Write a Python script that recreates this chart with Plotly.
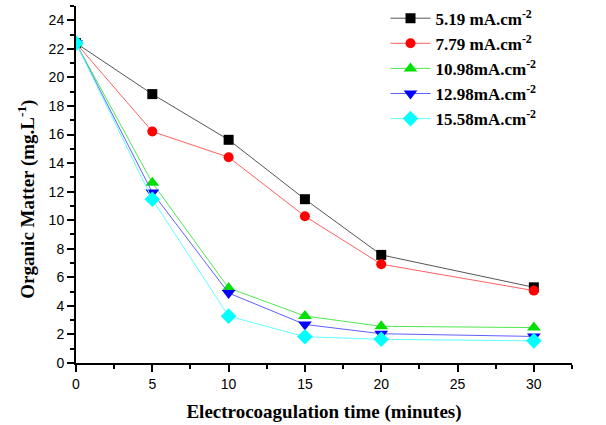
import plotly.graph_objects as go

# Electrocoagulation time (minutes)
time_min = [0, 5, 10, 15, 20, 30]

# Organic matter (mg/L) for each current density
om_519 = [22.4, 18.83, 15.63, 11.47, 7.57, 5.30]
om_779 = [22.4, 16.21, 14.41, 10.28, 6.92, 5.07]
om_1098 = [22.4, 12.62, 5.25, 3.29, 2.57, 2.48]
om_1298 = [22.4, 11.94, 4.90, 2.70, 2.05, 1.86]
om_1558 = [22.4, 11.47, 3.28, 1.84, 1.66, 1.55]

series_names = [
    "5.19 mA.cm<sup>-2</sup>",
    "7.79 mA.cm<sup>-2</sup>",
    "10.98mA.cm<sup>-2</sup>",
    "12.98mA.cm<sup>-2</sup>",
    "15.58mA.cm<sup>-2</sup>",
]
series_values = [om_519, om_779, om_1098, om_1298, om_1558]
marker_colors = ["#000000", "#FF0000", "#00E000", "#0000FF", "#00FFFF"]
line_colors = ["#555555", "#FF6060", "#50E850", "#6060FF", "#60FFFF"]
symbols = ["square", "circle", "triangle-up", "triangle-down", "diamond"]
marker_sizes = [10, 10, 12, 12, 12]

SERIF = "Liberation Serif, Times New Roman, serif"
SANS = "Liberation Sans, Arial, sans-serif"

fig = go.Figure()
for name, vals, mc, lc, sym, ms in zip(series_names, series_values, marker_colors,
                                       line_colors, symbols, marker_sizes):
    fig.add_trace(go.Scatter(
        x=time_min, y=vals, name=name, mode="lines+markers",
        line=dict(color=lc, width=1),
        marker=dict(symbol=sym, size=ms, color=mc, line=dict(width=0)),
    ))

axis_common = dict(
    showline=True, linecolor="#000000", linewidth=2,
    ticks="outside", ticklen=7, tickwidth=1.5, tickcolor="#000000",
    showgrid=False, zeroline=False, mirror=False,
    tickfont=dict(family=SANS, size=14, color="#000000"),
    minor=dict(ticks="outside", ticklen=4, tickwidth=1.5, tickcolor="#000000"),
)

title_font = dict(family=SERIF, size=19, color="#000000", weight="bold")

fig.update_xaxes(
    range=[0, 32.5], tickvals=[0, 5, 10, 15, 20, 25, 30],
    minor_dtick=2.5, minor_tick0=0,
    title=dict(text="Electrocoagulation time (minutes)", font=title_font, standoff=14),
    **axis_common,
)
fig.update_yaxes(
    range=[0, 25], tickvals=list(range(0, 25, 2)),
    minor_dtick=1, minor_tick0=0,
    **axis_common,
)

# Y-axis title placed as a rotated annotation
fig.add_annotation(
    text="Organic Matter (mg.L<sup>-1</sup>)",
    xref="paper", yref="paper", x=-0.099, y=0.46,
    xanchor="center", yanchor="middle", textangle=-90,
    showarrow=False, font=title_font,
)

fig.update_layout(
    width=606, height=425,
    margin=dict(l=76, r=34, t=6, b=62, autoexpand=False),
    paper_bgcolor="#FFFFFF", plot_bgcolor="#FFFFFF",
    font=dict(family=SERIF, color="#000000"),
    legend=dict(
        x=0.624, y=1.015, xanchor="left", yanchor="top",
        bgcolor="rgba(0,0,0,0)", borderwidth=0,
        font=dict(family=SERIF, size=17, color="#000000", weight="bold"),
        tracegroupgap=0, itemwidth=40,
    ),
)

fig.write_html("out.html")
